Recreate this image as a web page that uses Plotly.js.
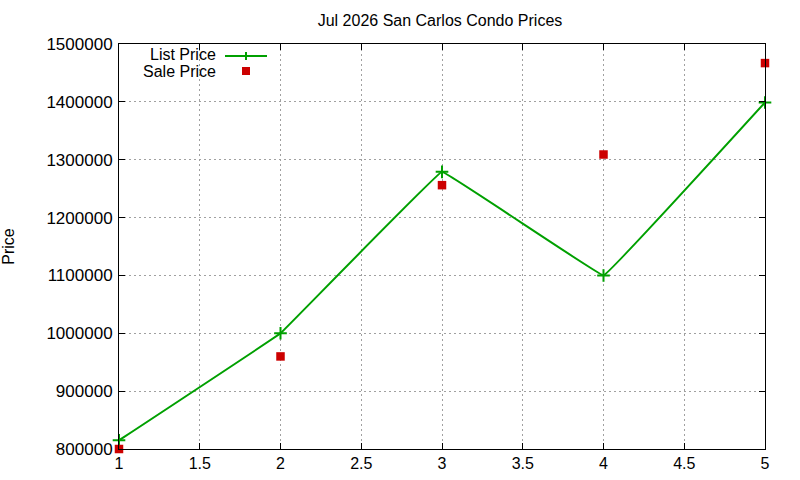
<!DOCTYPE html>
<html>
<head>
<meta charset="utf-8">
<script src="https://cdn.plot.ly/plotly-3.0.1.min.js"></script>
<style>
  html, body { margin: 0; padding: 0; background: #fff; }
  #graph { width: 800px; height: 480px; }
</style>
</head>
<body>
<div id="graph"></div>
<script>
// month index (1..5) and prices
const months = [1, 2, 3, 4, 5];
const listPrice = [815000, 1000000, 1279000, 1100000, 1399000];
const salePrice = [800000, 960000, 1256000, 1309000, 1467000];

const green = "#00a000";
const red = "#cc0000";
const font = "Liberation Sans, Arial, sans-serif";

let listTrace = {
  type: "scatter",
  mode: "lines+markers",
  name: "List Price",
  x: months,
  y: listPrice,
  line: { color: green, width: 2, shape: "spline", smoothing: 0.08 },
  marker: { symbol: "cross-thin-open", size: 9, line: { color: green, width: 2 } },
  cliponaxis: false,
};

let saleTrace = {
  type: "scatter",
  mode: "markers",
  name: "Sale Price",
  x: months,
  y: salePrice,
  marker: { symbol: "square", size: 8.5, color: red },
  cliponaxis: false,
};

function px(x) { return (x - 119) / 646; }
function py(y) { return 1 - (y - 44) / 405; }

// gnuplot style key: text right-aligned, sample on the right
let legendAnn = [
  { text: "List Price", x: 218, y: 55 },
  { text: "Sale Price", x: 218, y: 71 },
].map((a) => ({
  text: a.text,
  xref: "paper",
  yref: "paper",
  x: px(a.x),
  y: py(a.y),
  xanchor: "right",
  yanchor: "middle",
  showarrow: false,
  font: { size: 16, color: "#000", family: font },
}));

let legendShapes = [
  { type: "line", xref: "paper", yref: "paper", x0: px(225), x1: px(267), y0: py(56), y1: py(56), line: { color: green, width: 2 } },
  { type: "line", xref: "paper", yref: "paper", x0: px(246), x1: px(246), y0: py(52), y1: py(60), line: { color: green, width: 2 } },
  { type: "rect", xref: "paper", yref: "paper", x0: px(242), x1: px(250), y0: py(67), y1: py(75), fillcolor: red, line: { width: 0 } },
];

let axisCommon = {
  showline: true,
  mirror: "ticks",
  linecolor: "#000",
  linewidth: 1,
  ticks: "inside",
  ticklen: 6,
  tickcolor: "#000",
  showgrid: true,
  gridcolor: "#a0a0a0",
  griddash: "2px,3px",
  gridwidth: 1,
  zeroline: false,
  tickfont: { size: 17, color: "#000", family: font },
};

let layout = {
  width: 800,
  height: 480,
  paper_bgcolor: "#fff",
  plot_bgcolor: "#fff",
  showlegend: false,
  title: {
    text: "Jul 2026 San Carlos Condo Prices",
    x: 0.55,
    xanchor: "center",
    y: 0.958,
    yanchor: "middle",
    font: { size: 16, color: "#000", family: font },
  },
  xaxis: Object.assign({}, axisCommon, {
    range: [1, 5],
    tickvals: [1, 1.5, 2, 2.5, 3, 3.5, 4, 4.5, 5],
    ticktext: ["1", "1.5", "2", "2.5", "3", "3.5", "4", "4.5", "5"],
    tickfont: { size: 16, color: "#000", family: font },
  }),
  yaxis: Object.assign({}, axisCommon, {
    range: [800000, 1500000],
    tickvals: [800000, 900000, 1000000, 1100000, 1200000, 1300000, 1400000, 1500000],
    ticktext: ["800000", "900000", "1000000", "1100000", "1200000", "1300000", "1400000", "1500000"],
    ticklabelstandoff: 2,
    title: { text: "Price", standoff: 28, font: { size: 16, color: "#000", family: font } },
  }),
  margin: { l: 119, r: 35, t: 44, b: 31, pad: 0 },
  annotations: legendAnn,
  shapes: legendShapes,
  font: { family: font, color: "#000" },
};

Plotly.newPlot("graph", [listTrace, saleTrace], layout, { displayModeBar: false, staticPlot: true });
</script>
</body>
</html>
